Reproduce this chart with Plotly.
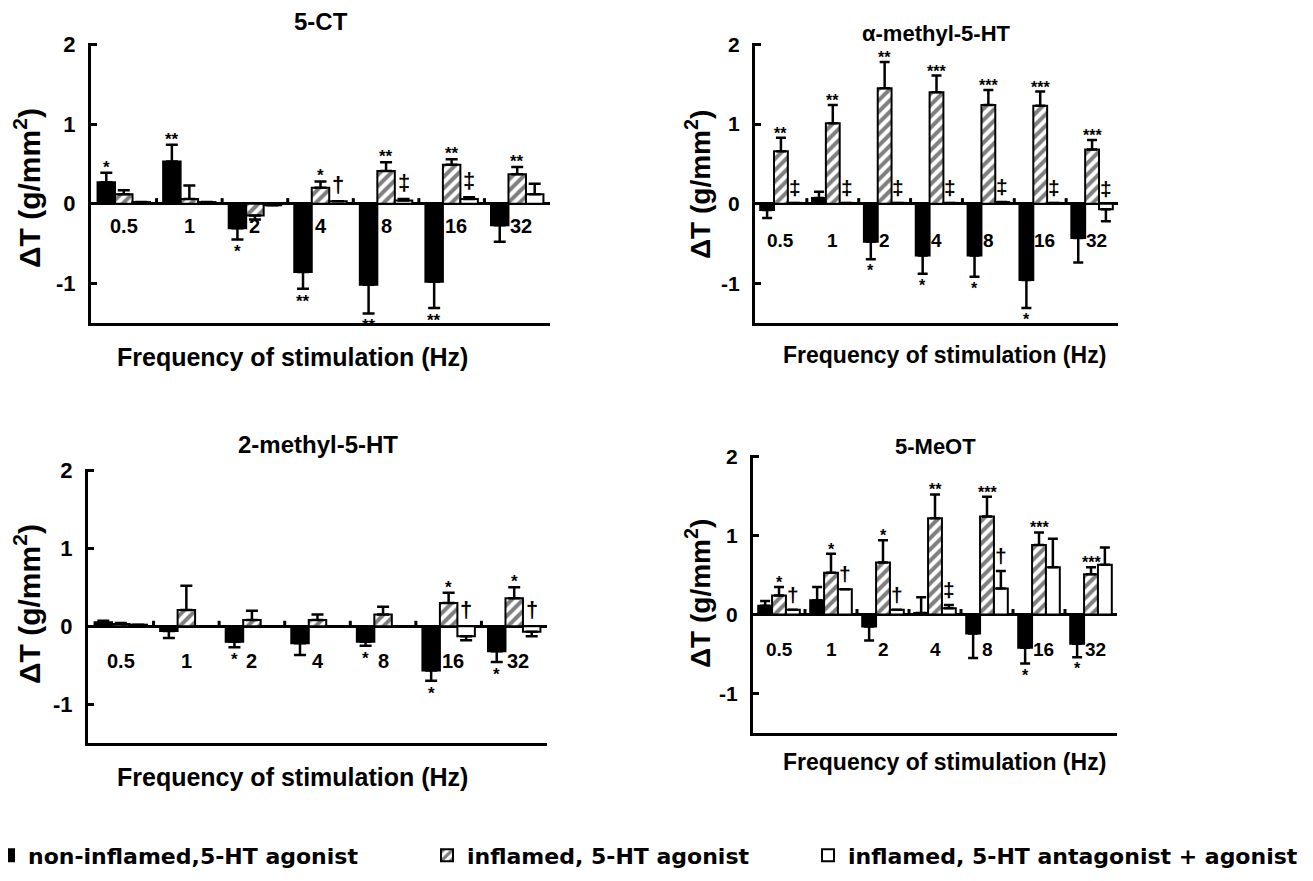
import plotly.graph_objects as go

# page is shown with the browser's default 8px body margin
PAGE_OFF = 8
W, H = 1297, 865

# ---------------- data ----------------
freqs = ["0.5", "1", "2", "4", "8", "16", "32"]
series_names = ["non-inflamed,5-HT agonist", "inflamed, 5-HT agonist",
                "inflamed, 5-HT antagonist + agonist"]

# 5-CT
ct_black = [0.27, 0.53, -0.31, -0.86, -1.02, -0.98, -0.27]
ct_black_err = [0.12, 0.21, 0.14, 0.21, 0.36, 0.33, 0.21]
ct_black_sig = ["*", "**", "*", "**", "**", "**", ""]
ct_hatch = [0.12, 0.06, -0.15, 0.20, 0.41, 0.49, 0.37]
ct_hatch_err = [0.05, 0.17, 0.05, 0.08, 0.11, 0.07, 0.09]
ct_hatch_sig = ["", "", "", "*", "**", "**", "**"]
ct_white = [0.02, 0.02, -0.02, 0.03, 0.04, 0.06, 0.12]
ct_white_err = [0.0, 0.0, 0.0, 0.0, 0.02, 0.02, 0.13]
ct_white_sig = ["", "", "", "†", "‡", "‡", ""]

# alpha-methyl-5-HT
am_black = [-0.08, 0.07, -0.48, -0.65, -0.65, -0.96, -0.43]
am_black_err = [0.10, 0.08, 0.22, 0.23, 0.27, 0.35, 0.31]
am_black_sig = ["", "", "*", "*", "*", "*", ""]
am_hatch = [0.66, 1.01, 1.45, 1.40, 1.24, 1.23, 0.68]
am_hatch_err = [0.17, 0.23, 0.33, 0.21, 0.19, 0.18, 0.12]
am_hatch_sig = ["**", "**", "**", "***", "***", "***", "***"]
am_white = [0.01, 0.01, 0.01, 0.01, 0.02, 0.01, -0.07]
am_white_err = [0.0, 0.0, 0.0, 0.0, 0.0, 0.0, 0.15]
am_white_sig = ["‡", "‡", "‡", "‡", "‡", "‡", "‡"]

# 2-methyl-5-HT
tm_black = [0.05, -0.06, -0.20, -0.22, -0.20, -0.57, -0.32]
tm_black_err = [0.02, 0.09, 0.07, 0.15, 0.05, 0.13, 0.14]
tm_black_sig = ["", "", "*", "", "*", "*", "*"]
tm_hatch = [0.03, 0.21, 0.08, 0.08, 0.15, 0.30, 0.36]
tm_hatch_err = [0.01, 0.31, 0.12, 0.07, 0.10, 0.13, 0.14]
tm_hatch_sig = ["", "", "", "", "", "*", "*"]
tm_white = [0.02, 0.0, 0.0, 0.0, 0.0, -0.13, -0.07]
tm_white_err = [0.0, 0.0, 0.0, 0.0, 0.0, 0.05, 0.06]
tm_white_sig = ["", "", "", "", "", "†", "†"]

# 5-MeOT
mo_black = [0.11, 0.18, -0.15, 0.02, -0.24, -0.42, -0.37]
mo_black_err = [0.06, 0.17, 0.18, 0.20, 0.31, 0.20, 0.17]
mo_black_sig = ["", "", "", "", "", "*", "*"]
mo_hatch = [0.24, 0.53, 0.66, 1.22, 1.24, 0.88, 0.51]
mo_hatch_err = [0.11, 0.24, 0.28, 0.30, 0.25, 0.16, 0.09]
mo_hatch_sig = ["*", "*", "*", "**", "***", "***", "***"]
mo_white = [0.06, 0.32, 0.06, 0.08, 0.33, 0.60, 0.63]
mo_white_err = [0.0, 0.0, 0.0, 0.04, 0.22, 0.36, 0.22]
mo_white_sig = ["†", "†", "†", "‡", "†", "", ""]

y_ticks = [-1, 0, 1, 2]
y_tick_text = ["-1", "0", "1", "2"]

# ---------------- layout helpers ----------------
FONT = "Liberation Sans, Arial, sans-serif"
LEG_FONT = "DejaVu Sans, sans-serif"
BARGAP = 0.2
W_OFF = (1 - BARGAP) / 3


def px(x):
    return (x - PAGE_OFF) / W


def py(y):
    return 1 - (y - PAGE_OFF) / H


panels = [
    dict(title="5-CT", ax="", box=(91, 43, 550, 323),
         black=ct_black, black_err=ct_black_err, black_sig=ct_black_sig,
         hatch=ct_hatch, hatch_err=ct_hatch_err, hatch_sig=ct_hatch_sig,
         white=ct_white, white_err=ct_white_err, white_sig=ct_white_sig,
         title_y=22, xt=(292, 357, 25), yt=(27, 188, 30), lab_y=-0.28,
         tsize=24, fs=20, star=17),
    dict(title="α-methyl-5-HT", ax="2", box=(755, 43, 1118, 323),
         black=am_black, black_err=am_black_err, black_sig=am_black_sig,
         hatch=am_hatch, hatch_err=am_hatch_err, hatch_sig=am_hatch_sig,
         white=am_white, white_err=am_white_err, white_sig=am_white_sig,
         title_y=33, xt=(945, 355, 23), yt=(698, 185, 28), lab_y=-0.46,
         tsize=22, fs=19, star=16),
    dict(title="2-methyl-5-HT", ax="3", box=(88, 469, 547, 743),
         black=tm_black, black_err=tm_black_err, black_sig=tm_black_sig,
         hatch=tm_hatch, hatch_err=tm_hatch_err, hatch_sig=tm_hatch_sig,
         white=tm_white, white_err=tm_white_err, white_sig=tm_white_sig,
         title_y=444, xt=(292, 777, 25), yt=(27, 604, 30), lab_y=-0.45,
         tsize=24, fs=20, star=17),
    dict(title="5-MeOT", ax="4", box=(753, 455, 1117, 733),
         black=mo_black, black_err=mo_black_err, black_sig=mo_black_sig,
         hatch=mo_hatch, hatch_err=mo_hatch_err, hatch_sig=mo_hatch_sig,
         white=mo_white, white_err=mo_white_err, white_sig=mo_white_sig,
         title_y=446, xt=(945, 762, 23), yt=(698, 594, 28), lab_y=-0.44,
         tsize=22, fs=19, star=16),
]


def err_arrays(vals, errs):
    up = [e if v >= 0 else 0 for v, e in zip(vals, errs)]
    dn = [e if v < 0 else 0 for v, e in zip(vals, errs)]
    return up, dn


fig = go.Figure()
annotations = []
shapes = []
layout_axes = {}

styles = [
    dict(color="black", line=dict(color="black", width=2)),
    dict(color="white", line=dict(color="black", width=2),
         pattern=dict(shape="/", fgcolor="black", bgcolor="white", size=8,
                      solidity=0.5)),
    dict(color="white", line=dict(color="black", width=2)),
]
legend_ids = ["legend", "legend2", "legend3"]

for pi, p in enumerate(panels):
    ax = p["ax"]
    xa, ya = "x" + ax, "y" + ax
    x0, y0, x1, y1 = p["box"]
    cap = 6 if pi in (0, 2) else 5
    keys = ["black", "hatch", "white"]
    for si, k in enumerate(keys):
        vals, errs = p[k], p[k + "_err"]
        up, dn = err_arrays(vals, errs)
        fig.add_trace(go.Bar(
            x=freqs, y=vals, name=series_names[si], xaxis=xa, yaxis=ya,
            marker=styles[si],
            error_y=dict(type="data", symmetric=False, array=up, arrayminus=dn,
                         color="black", thickness=2.5, width=cap),
            showlegend=(pi == 0), legend=legend_ids[si],
        ))
        # significance marks
        off = (si - 1) * W_OFF
        for i, (v, e, s) in enumerate(zip(vals, errs, p[k + "_sig"])):
            if not s:
                continue
            if k == "white":
                base = max(v + e if v >= 0 else 0, 0)
                annotations.append(dict(
                    x=i + off, y=base, xref=xa, yref=ya, text=s, showarrow=False,
                    yanchor="bottom", yshift=2,
                    font=dict(family=FONT, size=p["star"] + 5, color="black",
                              weight="bold")))
            elif v >= 0:
                annotations.append(dict(
                    x=i + off, y=v + e, xref=xa, yref=ya, text=s, showarrow=False,
                    yanchor="bottom", yshift=-6,
                    font=dict(family=FONT, size=p["star"], color="black",
                              weight="bold")))
            else:
                annotations.append(dict(
                    x=i + off, y=v - e, xref=xa, yref=ya, text=s, showarrow=False,
                    yanchor="top", yshift=-1,
                    font=dict(family=FONT, size=p["star"], color="black",
                              weight="bold")))
    # category labels placed beneath the zero line
    for i, f in enumerate(freqs):
        annotations.append(dict(
            x=i, y=p["lab_y"], xref=xa, yref=ya, text=f, showarrow=False,
            xanchor="center", yanchor="middle", xshift=4 if len(f) == 2 else 0,
            font=dict(family=FONT, size=p["fs"], color="black", weight="bold")))
    # small tick marks on the zero line between groups
    for i in range(len(freqs) - 1):
        shapes.append(dict(type="line", xref=xa, yref=ya, x0=i + 0.5, x1=i + 0.5,
                           y0=0, y1=0.07, line=dict(color="black", width=3)))
    # titles
    annotations.append(dict(
        x=px((x0 + x1) / 2), y=py(p["title_y"]), xref="paper", yref="paper",
        text=p["title"], showarrow=False, xanchor="center", yanchor="middle",
        font=dict(family=FONT, size=p["tsize"], color="black", weight="bold")))
    xt = p["xt"]
    annotations.append(dict(
        x=px(xt[0]), y=py(xt[1]), xref="paper", yref="paper",
        text="Frequency of stimulation (Hz)", showarrow=False,
        xanchor="center", yanchor="middle",
        font=dict(family=FONT, size=xt[2], color="black", weight="bold")))
    yt = p["yt"]
    annotations.append(dict(
        x=px(yt[0]), y=py(yt[1]), xref="paper", yref="paper",
        text="ΔT (g/mm<sup>2</sup>)", showarrow=False, textangle=-90,
        xanchor="center", yanchor="middle",
        font=dict(family=FONT, size=yt[2], color="black", weight="bold")))

    xname = "xaxis" + ax
    yname = "yaxis" + ax
    layout_axes[xname] = dict(
        domain=[px(x0), px(x1)], anchor=ya, type="category",
        range=[-0.5, len(freqs) - 0.5], showticklabels=False, ticks="",
        showline=True, linewidth=3, linecolor="black", showgrid=False,
        zeroline=False, fixedrange=True)
    layout_axes[yname] = dict(
        domain=[py(y1), py(y0)], anchor=xa, range=[-1.5, 2.02],
        tickvals=y_ticks, ticktext=y_tick_text, ticks="inside", ticklen=6,
        tickwidth=3, tickcolor="black", showline=True, linewidth=3,
        linecolor="black", showgrid=False, zeroline=True, zerolinewidth=3,
        zerolinecolor="black", ticklabelstandoff=8,
        tickfont=dict(family=FONT, size=p["fs"] + 2, color="black",
                      weight="bold"), fixedrange=True)

legend_common = dict(orientation="h", yanchor="bottom", y=-0.004,
                     xanchor="left", bgcolor="rgba(0,0,0,0)", borderwidth=0,
                     font=dict(family=LEG_FONT, size=22, color="black",
                               weight="bold"))

fig.update_layout(
    width=W, height=H,
    margin=dict(l=0, r=0, t=0, b=0, autoexpand=False),
    paper_bgcolor="white", plot_bgcolor="white",
    barmode="group", bargap=BARGAP, bargroupgap=0,
    annotations=annotations, shapes=shapes,
    legend=dict(x=px(-12), **legend_common),
    legend2=dict(x=px(427), **legend_common),
    legend3=dict(x=px(808), **legend_common),
    **layout_axes,
)

fig.write_html("out.html")
